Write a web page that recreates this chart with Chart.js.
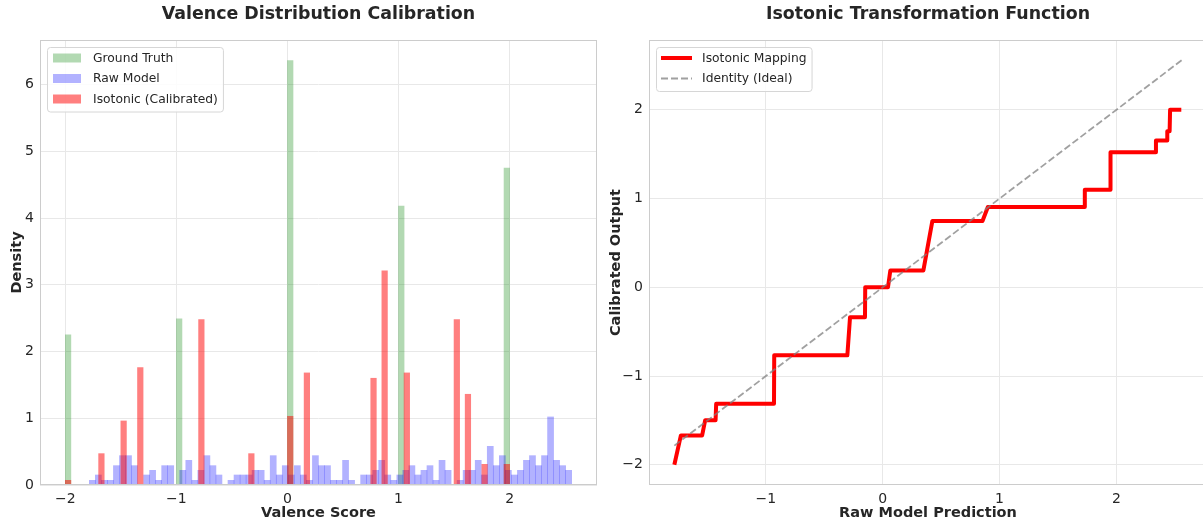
<!DOCTYPE html>
<html>
<head>
<meta charset="utf-8">
<title>Valence calibration</title>
<script src="https://cdn.jsdelivr.net/npm/chart.js@4.4.1/dist/chart.umd.min.js"></script>
<style>
  html, body { margin: 0; padding: 0; background: #fff; overflow: hidden; }
  body { width: 1203px; height: 524px; position: relative; }
  .panel { position: absolute; top: 0; height: 524px; }
  #left { left: 0; width: 600px; }
  #right { left: 600px; width: 607px; }
</style>
</head>
<body>
<div class="panel" id="left"><canvas id="histChart" width="600" height="524"></canvas></div>
<div class="panel" id="right"><canvas id="isoChart" width="607" height="524"></canvas></div>
<script>
// ---- histogram data (density per bin) ----
// ground truth, 80 bins over [-2, 2] -> only non-empty bins, by bin centre
const gtCenters = [-1.975, -0.975, 0.025, 1.025, 1.975];
const gtDensity = [2.25, 2.49, 6.36, 4.18, 4.75];

// isotonic calibrated output, same binning as ground truth
const isoCenters = [-1.975, -1.675, -1.475, -1.325, -0.775, -0.325, 0.025, 0.175,
                    0.775, 0.875, 1.075, 1.525, 1.625, 1.775, 1.975];
const isoDensity = [0.07, 0.47, 0.96, 1.76, 2.48, 0.47, 1.03, 1.68,
                    1.60, 3.21, 1.68, 2.48, 1.36, 0.31, 0.31];

// raw model, 80 bins from its own min to max
const rawMin = -1.784;
const rawMax = 2.559;
const rawDensity = [
  0.07, 0.15, 0.07, 0.07, 0.29, 0.44, 0.44, 0.29, 0.00, 0.15,
  0.22, 0.07, 0.29, 0.29, 0.00, 0.22, 0.37, 0.07, 0.22, 0.44,
  0.29, 0.15, 0.00, 0.07, 0.15, 0.15, 0.15, 0.22, 0.22, 0.07,
  0.44, 0.15, 0.29, 0.15, 0.29, 0.15, 0.07, 0.44, 0.29, 0.29,
  0.07, 0.07, 0.37, 0.07, 0.00, 0.15, 0.15, 0.22, 0.37, 0.15,
  0.07, 0.15, 0.22, 0.29, 0.15, 0.22, 0.29, 0.07, 0.37, 0.22,
  0.00, 0.07, 0.22, 0.22, 0.37, 0.15, 0.58, 0.29, 0.44, 0.22,
  0.15, 0.22, 0.37, 0.44, 0.29, 0.44, 1.02, 0.37, 0.29, 0.22
];

// ---- isotonic mapping (raw prediction -> calibrated output) ----
const isoX = [-1.784, -1.728, -1.546, -1.520, -1.431, -1.426, -0.931, -0.929,
              -0.303, -0.280, -0.152, -0.150, 0.045, 0.065, 0.348, 0.425,
              0.854, 0.900, 1.728, 1.730, 1.948, 1.950, 2.333, 2.339,
              2.434, 2.436, 2.456, 2.460, 2.556];
const isoY = [-2.000, -1.669, -1.669, -1.497, -1.497, -1.313, -1.313, -0.767,
              -0.767, -0.337, -0.337, 0.000, 0.000, 0.190, 0.190, 0.748,
              0.748, 0.905, 0.905, 1.100, 1.100, 1.522, 1.522, 1.653,
              1.653, 1.758, 1.758, 2.000, 2.000];
const identityEnds = [-1.784, 2.559];

const histXTicks = [-2, -1, 0, 1, 2];
const histYTicks = [0, 1, 2, 3, 4, 5, 6];
const isoXTicks = [-1, 0, 1, 2];
const isoYTicks = [-2, -1, 0, 1, 2];

// ---- styling ----
const textColor = '#262626';
const gridColor = '#e8e8e8';
const spineColor = '#cccccc';
const family = "'DejaVu Sans', sans-serif";
Chart.defaults.font.family = family;
Chart.defaults.color = textColor;

const tickFont = { size: 14 };
const labelFont = { size: 14.5, weight: 'bold' };
const fmt = v => (v < 0 ? '\u2212' + Math.abs(v) : String(v));
const fixTicks = list => scale => { scale.ticks = list.map(v => ({ value: v })); };

// frame around the plotting area
const frame = {
  id: 'frame',
  afterDatasetsDraw(chart) {
    const a = chart.chartArea, ctx = chart.ctx;
    ctx.save();
    ctx.strokeStyle = spineColor;
    ctx.lineWidth = 1;
    ctx.strokeRect(Math.round(a.left) + 0.5, Math.round(a.top) + 0.5,
                   Math.round(a.right - a.left) - 1, Math.round(a.bottom - a.top) - 1);
    ctx.restore();
  }
};

// title centred over the plotting area (like matplotlib ax.set_title)
const areaTitle = {
  id: 'areaTitle',
  afterDraw(chart, args, opts) {
    const a = chart.chartArea, ctx = chart.ctx;
    ctx.save();
    ctx.font = 'bold 17.4px ' + family;
    ctx.fillStyle = textColor;
    ctx.textAlign = 'center';
    ctx.textBaseline = 'middle';
    ctx.fillText(opts.text, (a.left + a.right) / 2, 14);
    ctx.restore();
  }
};

// matplotlib-like boxed legend in the upper left corner
const boxLegend = {
  id: 'boxLegend',
  afterDraw(chart) {
    const ctx = chart.ctx, a = chart.chartArea;
    const items = chart.data.datasets.filter(d => d.label);
    const x0 = a.left + 7, y0 = a.top + 7, rowH = 20.5;
    ctx.save();
    ctx.font = '12.3px ' + family;
    const textW = Math.max(...items.map(d => ctx.measureText(d.label).width));
    const w = 46 + textW + 5, h = items.length * rowH + 3;
    ctx.beginPath();
    ctx.roundRect(x0 + 0.5, y0 + 0.5, w, h, 3);
    ctx.fillStyle = 'rgba(255,255,255,0.85)';
    ctx.fill();
    ctx.strokeStyle = '#d6d6d6';
    ctx.lineWidth = 1;
    ctx.stroke();
    items.forEach((d, i) => {
      const cy = y0 + 11 + i * rowH;
      if (chart.config.type === 'line') {
        ctx.beginPath();
        ctx.setLineDash(d.borderDash || []);
        ctx.strokeStyle = d.borderColor;
        ctx.lineWidth = d.borderWidth;
        ctx.moveTo(x0 + 5, cy);
        ctx.lineTo(x0 + 36, cy);
        ctx.stroke();
        ctx.setLineDash([]);
      } else {
        ctx.fillStyle = d.backgroundColor;
        ctx.fillRect(x0 + 6, cy - 4.5, 28, 9);
      }
      ctx.fillStyle = textColor;
      ctx.textBaseline = 'middle';
      ctx.fillText(d.label, x0 + 46, cy + 0.5);
    });
    ctx.restore();
  }
};

// ---- left: histogram ----
const rawW = (rawMax - rawMin) / rawDensity.length;
const histMin = -2.228, histMax = 2.787;

new Chart(document.getElementById('histChart'), {
  type: 'bar',
  data: {
    datasets: [
      {
        label: 'Ground Truth',
        data: gtCenters.map((c, i) => ({ x: c, y: gtDensity[i] })),
        backgroundColor: 'rgba(0,128,0,0.3)',
        xAxisID: 'x', order: 3
      },
      {
        label: 'Raw Model',
        data: rawDensity.map((v, i) => ({ x: rawMin + (i + 0.5) * rawW, y: v })),
        backgroundColor: 'rgba(0,0,255,0.3)',
        xAxisID: 'xb', order: 2
      },
      {
        label: 'Isotonic (Calibrated)',
        data: isoCenters.map((c, i) => ({ x: c, y: isoDensity[i] })),
        backgroundColor: 'rgba(255,0,0,0.5)',
        xAxisID: 'x', order: 1
      }
    ]
  },
  options: {
    responsive: false,
    animation: false,
    layout: { padding: { left: 0, right: 3, top: 40, bottom: 0 } },
    datasets: { bar: { grouped: false, barPercentage: 1, categoryPercentage: 1, borderWidth: 0 } },
    scales: {
      x: {
        type: 'linear', min: histMin, max: histMax, offset: false,
        afterBuildTicks: fixTicks(histXTicks),
        afterFit: s => { s.height = 39; },
        grid: { color: gridColor, drawTicks: false, offset: false },
        border: { display: false },
        ticks: { padding: 6, font: tickFont, color: textColor, callback: fmt, maxRotation: 0 },
        title: { display: true, text: 'Valence Score', font: labelFont, color: textColor, padding: { top: 0, bottom: 2.5 } }
      },
      xb: { type: 'linear', display: false, min: histMin, max: histMax, offset: false, grid: { offset: false } },
      y: {
        min: 0, max: 6.67,
        afterBuildTicks: fixTicks(histYTicks),
        afterFit: s => { s.width = 40; },
        grid: { color: gridColor, drawTicks: false },
        border: { display: false },
        ticks: { padding: 6, font: tickFont, color: textColor, callback: fmt },
        title: { display: true, text: 'Density', font: labelFont, color: textColor, padding: { top: 8.3, bottom: 0 } }
      }
    },
    plugins: {
      legend: { display: false },
      tooltip: { enabled: false },
      areaTitle: { text: 'Valence Distribution Calibration' }
    }
  },
  plugins: [frame, boxLegend, areaTitle]
});

// ---- right: isotonic transformation ----
new Chart(document.getElementById('isoChart'), {
  type: 'line',
  data: {
    datasets: [
      {
        label: 'Isotonic Mapping',
        data: isoX.map((x, i) => ({ x: x, y: isoY[i] })),
        borderColor: '#ff0000', borderWidth: 4,
        pointRadius: 0, tension: 0, fill: false,
        borderJoinStyle: 'round', order: 1
      },
      {
        label: 'Identity (Ideal)',
        data: identityEnds.map(v => ({ x: v, y: v })),
        borderColor: 'rgba(128,128,128,0.75)', borderWidth: 1.8, borderDash: [7, 3],
        pointRadius: 0, tension: 0, fill: false, order: 0
      }
    ]
  },
  options: {
    responsive: false,
    animation: false,
    layout: { padding: { left: 0, right: 0, top: 40, bottom: 0 } },
    scales: {
      x: {
        type: 'linear', min: -2.001, max: 2.776,
        afterBuildTicks: fixTicks(isoXTicks),
        afterFit: s => { s.height = 39; },
        grid: { color: gridColor, drawTicks: false },
        border: { display: false },
        ticks: { padding: 6, font: tickFont, color: textColor, callback: fmt, maxRotation: 0 },
        title: { display: true, text: 'Raw Model Prediction', font: labelFont, color: textColor, padding: { top: 0, bottom: 2.5 } }
      },
      y: {
        type: 'linear', min: -2.228, max: 2.787,
        afterBuildTicks: fixTicks(isoYTicks),
        afterFit: s => { s.width = 49; },
        grid: { color: gridColor, drawTicks: false },
        border: { display: false },
        ticks: { padding: 6, font: tickFont, color: textColor, callback: fmt },
        title: { display: true, text: 'Calibrated Output', font: labelFont, color: textColor, padding: { top: 7.5, bottom: 0 } }
      }
    },
    plugins: {
      legend: { display: false },
      tooltip: { enabled: false },
      areaTitle: { text: 'Isotonic Transformation Function' }
    }
  },
  plugins: [frame, boxLegend, areaTitle]
});
</script>
</body>
</html>
